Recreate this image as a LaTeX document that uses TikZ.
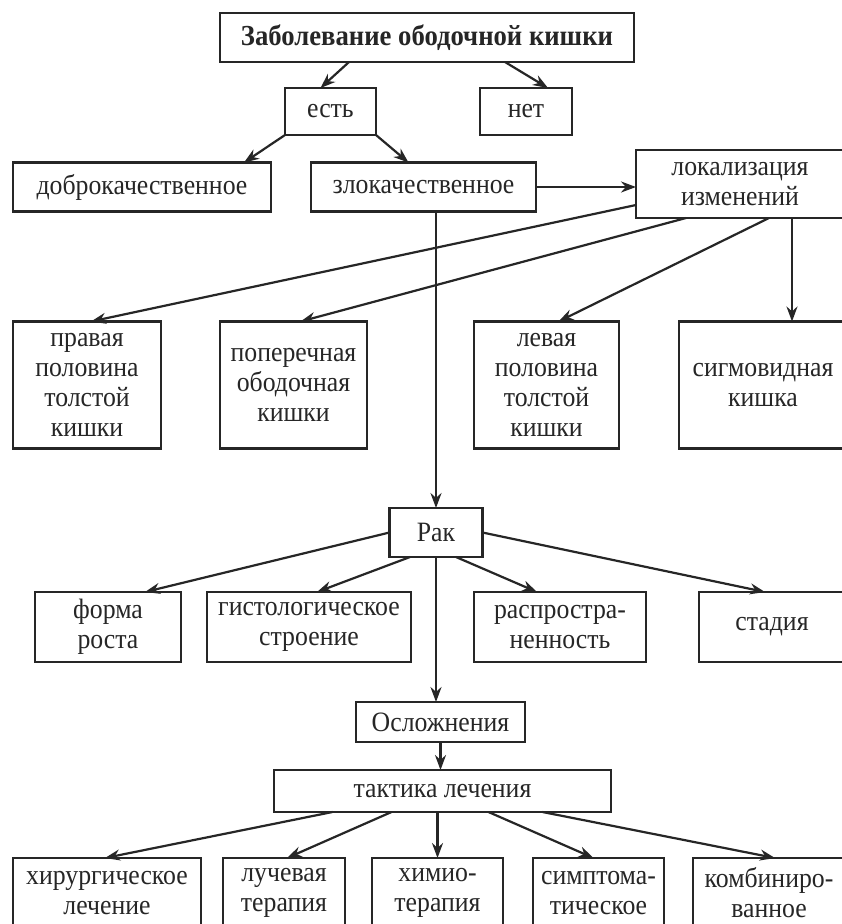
\documentclass[tikz,border=0pt]{standalone}
\usepackage{fontspec}
\setmainfont[FakeStretch=0.92]{Liberation Serif}
\usepackage{tikz}
\usetikzlibrary{positioning, arrows.meta}

\tikzset{
	blok/.style={draw=black!85, line width=2.2pt, inner sep=0pt, outer sep=0pt, align=center, text=black!85,
		font=\fontsize{28}{30}\selectfont},
	strel/.style={draw=black!85, line width=2.2pt, -{Stealth[length=15pt, width=11pt]}},
}

\begin{document}
\begin{tikzpicture}[x=1pt, y=-1pt]
	\clip (0,0) rectangle (842,924);
	\fill[white] (0,0) rectangle (842,924);
	
	\node[blok, minimum width=414pt, minimum height=49pt, font=\fontsize{29}{30}\selectfont\bfseries] (zab) at (427,37.5) {Заболевание ободочной кишки};
	\node[blok, minimum width=91pt, minimum height=47pt] (est) at (330.5,111.5) {есть};
	\node[blok, minimum width=92pt, minimum height=47pt, right=104pt of est] (net) {нет};
	
	\node[blok, minimum width=258pt, minimum height=49pt] (dobro) at (142,187) {доброкачественное};
	\node[blok, minimum width=225pt, minimum height=49pt, right=40pt of dobro] (zlo) {злокачественное};
	\node[blok, minimum width=208pt, minimum height=68pt] (lok) at (740,184) {локализация\\изменений};
	
	\node[blok, minimum width=148pt, minimum height=127pt] (prav) at (87,385) {правая\\половина\\толстой\\кишки};
	\node[blok, minimum width=147pt, minimum height=127pt, right=59pt of prav] (poper) {поперечная\\ободочная\\кишки};
	\node[blok, minimum width=145pt, minimum height=127pt, right=107pt of poper] (lev) {левая\\половина\\толстой\\кишки};
	\node[blok, minimum width=168pt, minimum height=127pt, right=60pt of lev] (sigm) {сигмовидная\\кишка};
	
	\node[blok, minimum width=93pt, minimum height=49pt] (rak) at (436,532.5) {Рак};
	
	\node[blok, minimum width=146pt, minimum height=70pt] (forma) at (108,627) {форма\\роста};
	\node[blok, minimum width=204pt, minimum height=70pt, right=26pt of forma] (gist) {гистологическое\\строение};
	\node[blok, minimum width=172pt, minimum height=70pt, right=63pt of gist] (rasp) {распростра-\\ненность};
	\node[blok, minimum width=146pt, minimum height=70pt, right=53pt of rasp] (stad) {стадия};
	
	\node[blok, minimum width=169pt, minimum height=40pt] (osl) at (440.5,722) {Осложнения};
	\node[blok, minimum width=337pt, minimum height=42pt] (takt) at (442.5,791) {тактика лечения};
	
	\node[blok, minimum width=188pt, minimum height=70pt] (hir) at (107,893) {хирургическое\\лечение};
	\node[blok, minimum width=122pt, minimum height=70pt, right=22pt of hir] (luch) {лучевая\\терапия};
	\node[blok, minimum width=131pt, minimum height=70pt, right=27pt of luch] (him) {химио-\\терапия};
	\node[blok, minimum width=131pt, minimum height=70pt, right=30pt of him] (simp) {симптома-\\тическое};
	\node[blok, minimum width=152pt, minimum height=70pt, right=29pt of simp] (komb) {комбиниро-\\ванное};
	
	% verkhnie strelki
	\draw[strel] ([xshift=-78pt]zab.south) -- ([xshift=-10pt]est.north);
	\draw[strel] ([xshift=78pt]zab.south) -- ([xshift=22pt]net.north);
	\draw[strel] (est.south west) -- ([xshift=102pt]dobro.north);
	\draw[strel] (est.south east) -- ([xshift=-15pt]zlo.north);
	\draw[strel] (zlo.east) -- (zlo.east -| lok.west);
	
	% lokalizaciya
	\draw[strel] ([yshift=-21pt]lok.west) -- ([xshift=4pt]prav.north);
	\draw[strel] ([xshift=-54pt]lok.south) -- ([xshift=7pt]poper.north);
	\draw[strel] ([xshift=29pt]lok.south) -- ([xshift=12pt]lev.north);
	\draw[strel] ([xshift=52pt]lok.south) -- ([xshift=52pt]lok.south |- sigm.north);
	
	% rak
	\draw[strel] (rak.north |- zlo.south) -- (rak.north);
	\draw[strel] (rak.west) -- ([xshift=37pt]forma.north);
	\draw[strel] ([xshift=-26pt]rak.south) -- ([xshift=8pt]gist.north);
	\draw[strel] ([xshift=20pt]rak.south) -- ([xshift=-23pt]rasp.north);
	\draw[strel] (rak.east) -- ([xshift=-7pt]stad.north);
	\draw[strel] (rak.south) -- (rak.south |- osl.north);
	\draw[strel] (osl.south) -- (osl.south |- takt.north);
	
	% lechenie
	\draw[strel] ([xshift=-110pt]takt.south) -- ([xshift=-2pt]hir.north);
	\draw[strel] ([xshift=-51pt]takt.south) -- ([xshift=3pt]luch.north);
	\draw[strel] (him.north |- takt.south) -- (him.north);
	\draw[strel] ([xshift=46pt]takt.south) -- ([xshift=-5pt]simp.north);
	\draw[strel] ([xshift=100pt]takt.south) -- ([xshift=6pt]komb.north);
\end{tikzpicture}
\end{document}
